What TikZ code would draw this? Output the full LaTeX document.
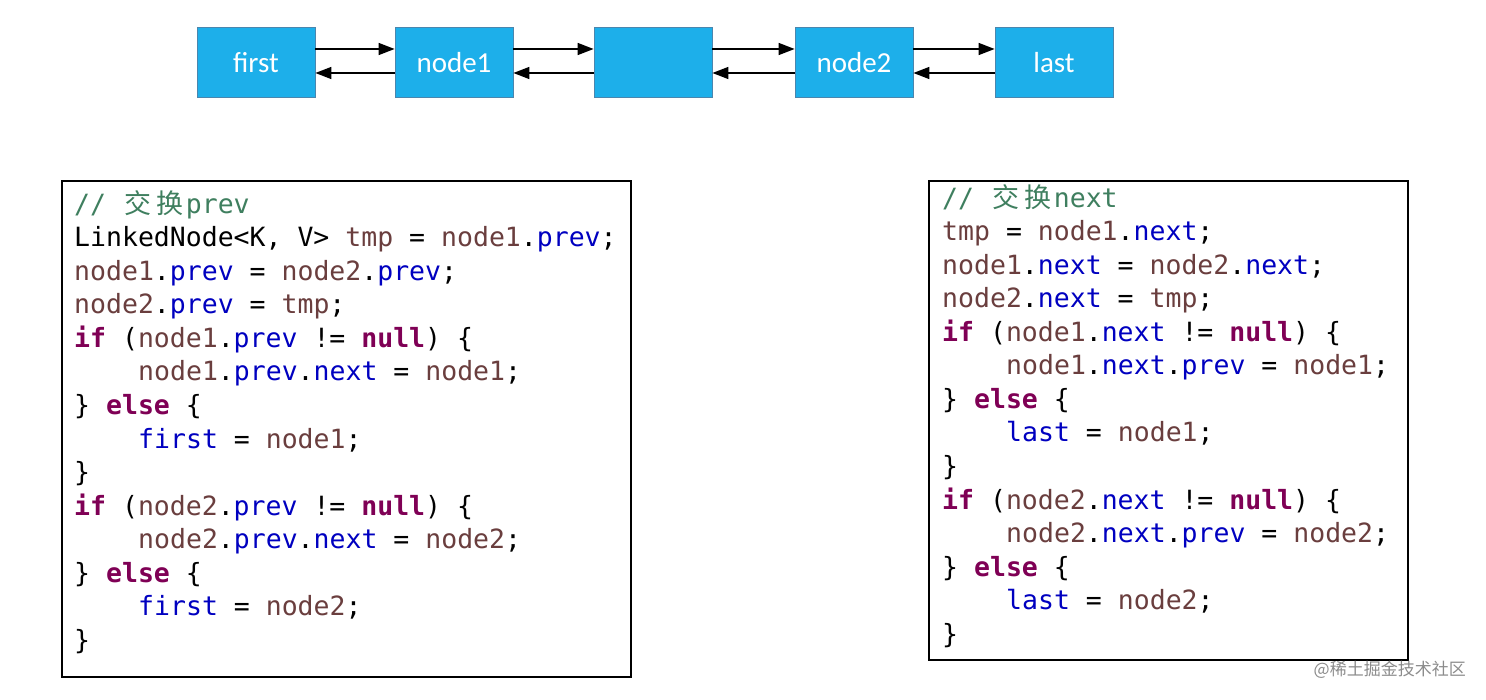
\documentclass[tikz,border=0pt]{standalone}
\usepackage{fontspec}
\setmainfont{Carlito}
\newfontfamily\codefont{DejaVu Sans Mono}
\newfontfamily\cjk{Noto Sans CJK SC}
\usetikzlibrary{arrows.meta}
\definecolor{boxblue}{HTML}{1DAFEA}
\definecolor{boxedge}{HTML}{4A86AE}
\definecolor{cmtc}{HTML}{3F7F5F}
\definecolor{kwc}{HTML}{7F0055}
\definecolor{fldc}{HTML}{0000C0}
\definecolor{lvc}{HTML}{6A3E3E}
\newcommand\kwd[1]{\textcolor{kwc}{\bfseries #1}}
\newcommand\fld[1]{\textcolor{fldc}{#1}}
\newcommand\lvar[1]{\textcolor{lvc}{#1}}
\newcommand\cmt[1]{\textcolor{cmtc}{#1}}
\newcommand\cjkc[1]{\makebox[31.9pt][c]{\textcolor{cmtc}{\cjk\fontsize{27}{27}\selectfont #1}}}
\tikzset{
  lnode/.style={draw=boxedge, line width=0.8pt, fill=boxblue, minimum width=118pt, minimum height=70pt, inner sep=0pt, text=white, font=\fontsize{29}{29}\selectfont},
  arr/.style={-{Triangle[length=16pt,width=12pt]}, line width=1.5pt, black},
  codebox/.style={draw=black, line width=1.2pt, inner sep=0pt},
  codeline/.style={anchor=base west, inner sep=0pt, font=\codefont\fontsize{26.5}{33.5}\selectfont},
  wmark/.style={anchor=base east, inner sep=0pt, text=black!45, font=\cjk\fontsize{17}{17}\selectfont}
}
\begin{document}
\begin{tikzpicture}[x=1pt,y=-1pt]
\useasboundingbox (0,0) rectangle (1486,700);
\fill[white] (0,0) rectangle (1486,700);
% linked list
\node[lnode] (nfirst) at (256,62.5) {first};
\node[lnode] (nnode1) at (454,62.5) {node1};
\node[lnode] (nmid) at (653,62.5) {};
\node[lnode] (nnode2) at (854,62.5) {node2};
\node[lnode] (nlast) at (1054,62.5) {last};
\foreach \a/\b in {nfirst/nnode1, nnode1/nmid, nmid/nnode2, nnode2/nlast}{
  \draw[arr] ([yshift=13.5pt]\a.east) -- ([yshift=13.5pt]\b.west);
  \draw[arr] ([yshift=-10.5pt]\b.west) -- ([yshift=-10.5pt]\a.east);
}
% code boxes
\draw[codebox] (62,181) rectangle (631,677);
\draw[codebox] (929,181) rectangle (1408,660);
% left code
\node[codeline] (L1) at (74,213.5) {\cmt{// }\cjkc{交}\cjkc{换}\cmt{prev}};
\node[codeline] (L2) at (74,247) {LinkedNode<K, V> \lvar{tmp} = \lvar{node1}.\fld{prev};};
\node[codeline] (L3) at (74,280.5) {\lvar{node1}.\fld{prev} = \lvar{node2}.\fld{prev};};
\node[codeline] (L4) at (74,314) {\lvar{node2}.\fld{prev} = \lvar{tmp};};
\node[codeline] (L5) at (74,347.5) {\kwd{if} (\lvar{node1}.\fld{prev} != \kwd{null}) \{};
\node[codeline] (L6) at (138,381) {\lvar{node1}.\fld{prev}.\fld{next} = \lvar{node1};};
\node[codeline] (L7) at (74,414.5) {\} \kwd{else} \{};
\node[codeline] (L8) at (138,448) {\fld{first} = \lvar{node1};};
\node[codeline] (L9) at (74,481.5) {\}};
\node[codeline] (L10) at (74,515) {\kwd{if} (\lvar{node2}.\fld{prev} != \kwd{null}) \{};
\node[codeline] (L11) at (138,548.5) {\lvar{node2}.\fld{prev}.\fld{next} = \lvar{node2};};
\node[codeline] (L12) at (74,582) {\} \kwd{else} \{};
\node[codeline] (L13) at (138,615.5) {\fld{first} = \lvar{node2};};
\node[codeline] (L14) at (74,649) {\}};
% right code
\node[codeline] (R1) at (942,207.5) {\cmt{// }\cjkc{交}\cjkc{换}\cmt{next}};
\node[codeline] (R2) at (942,241) {\lvar{tmp} = \lvar{node1}.\fld{next};};
\node[codeline] (R3) at (942,274.5) {\lvar{node1}.\fld{next} = \lvar{node2}.\fld{next};};
\node[codeline] (R4) at (942,308) {\lvar{node2}.\fld{next} = \lvar{tmp};};
\node[codeline] (R5) at (942,341.5) {\kwd{if} (\lvar{node1}.\fld{next} != \kwd{null}) \{};
\node[codeline] (R6) at (1006,375) {\lvar{node1}.\fld{next}.\fld{prev} = \lvar{node1};};
\node[codeline] (R7) at (942,408.5) {\} \kwd{else} \{};
\node[codeline] (R8) at (1006,442) {\fld{last} = \lvar{node1};};
\node[codeline] (R9) at (942,475.5) {\}};
\node[codeline] (R10) at (942,509) {\kwd{if} (\lvar{node2}.\fld{next} != \kwd{null}) \{};
\node[codeline] (R11) at (1006,542.5) {\lvar{node2}.\fld{next}.\fld{prev} = \lvar{node2};};
\node[codeline] (R12) at (942,576) {\} \kwd{else} \{};
\node[codeline] (R13) at (1006,609.5) {\fld{last} = \lvar{node2};};
\node[codeline] (R14) at (942,643) {\}};
% watermark caption
\node[wmark] (wm) at (1466,675) {@稀土掘金技术社区};
\end{tikzpicture}
\end{document}
